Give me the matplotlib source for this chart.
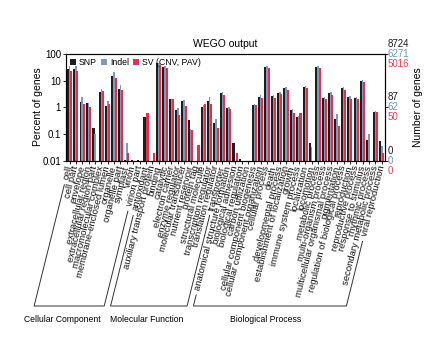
import matplotlib
matplotlib.use('Agg')
import matplotlib.pyplot as plt
import numpy as np
from matplotlib.patches import Patch
from matplotlib.lines import Line2D

plt.rcParams['font.family'] = ['Liberation Sans', 'DejaVu Sans']

# ---------------- data ----------------
cc_terms = ['cell', 'cell part', 'envelope', 'extracellular region', 'extracellular region part',
            'macromolecular complex', 'membrane-enclosed lumen', 'organelle', 'organelle part',
            'symplast', 'virion', 'virion part']
mf_terms = ['antioxidant', 'auxiliary transport protein', 'binding', 'catalytic', 'electron carrier',
            'enzyme regulator', 'molecular transducer', 'nutrient reservoir', 'protein tag',
            'structural molecule', 'transcription regulator', 'translation regulator', 'transporter']
bp_terms = ['anatomical structure formation', 'biological adhesion', 'biological regulation',
            'carbon utilization', 'cellular component biogenesis', 'cellular component organization',
            'cellular process', 'death', 'developmental process', 'establishment of localization',
            'growth', 'immune system process', 'localization', 'locomotion', 'metabolic process',
            'multi-organism process', 'multicellular organismal process', 'pigmentation',
            'regulation of biological process', 'reproduction', 'reproductive process',
            'response to stimulus', 'rhythmic process', 'secondary metabolic process',
            'viral reproduction']

snp_cc = [28, 28, 1.55, 1.5, 0.17, 3.7, 1.17, 15.5, 4.9, 0.011, 0.011, 0.011]
indel_cc = [35, 35, 2.4, 1.5, 0.1, 4.8, 1.8, 21, 7.0, 0.048, 0, 0]
sv_cc = [24, 24, 1.4, 1.05, 0, 4.1, 1.3, 12.5, 4.5, 0.02, 0, 0]

snp_mf = [0.45, 0, 48, 34, 2.1, 0.82, 1.7, 0.34, 0, 1.07, 1.75, 0.27, 3.4]
indel_mf = [0, 0, 45, 35, 2.0, 0.93, 1.9, 0.16, 0, 1.25, 2.5, 0.36, 3.7]
sv_mf = [0.62, 0.02, 40, 31, 2.0, 0.53, 1.15, 0.14, 0.04, 1.35, 1.35, 0.17, 3.0]

snp_bp = [0.95, 0.046, 0.012, 0, 1.25, 2.5, 32, 2.7, 3.6, 5.2, 0.8, 0.43, 6.0, 0.046, 33,
          2.2, 3.6, 0.36, 5.2, 2.5, 2.2, 10, 0.06, 0.7, 0.055]
indel_bp = [1.0, 0, 0, 0, 1.4, 2.9, 36, 2.9, 3.9, 5.8, 0.9, 0.48, 6.5, 0.032, 37,
            2.4, 3.9, 0.55, 5.6, 2.6, 2.4, 11, 0.1, 0.75, 0.035]
sv_bp = [0.9, 0.02, 0, 0, 1.2, 2.3, 30, 2.3, 3.3, 4.6, 0.6, 0.65, 5.5, 0, 30,
         2.0, 3.0, 0.2, 4.5, 2.0, 2.0, 8.8, 0, 0.7, 0.02]

series_names = ['SNP', 'Indel', 'SV (CNV, PAV)']
series_totals = ['8724', '6271', '5016']
series_mid = ['87', '62', '50']
group_names = ['Cellular Component', 'Molecular Function', 'Biological Process']

# ---------------- styling ----------------
C_BLACK = '#1e1e1e'
C_BLUE = '#7d9cb8'
C_RED = '#ec2d4a'
TXT_BLUE = '#6e98bd'
TXT_RED = '#f03c50'
W, H = 428, 339
title_x_px = [62, 147, 266]

terms = cc_terms + mf_terms + bp_terms
snp = np.array(snp_cc + snp_mf + snp_bp, float)
indel = np.array(indel_cc + indel_mf + indel_bp, float)
sv = np.array(sv_cc + sv_mf + sv_bp, float)
groups = [len(cc_terms), len(mf_terms), len(bp_terms)]
N = len(terms)
x = np.arange(N)

fig = plt.figure(figsize=(W / 100, H / 100), dpi=100)
ax = fig.add_axes([66 / W, 1 - 161 / H, (385 - 66) / W, (161 - 54) / H])
ax.set_yscale('log')
base = 0.01
for vals, off, wd, col in [(snp, -0.24, 0.38, C_BLACK), (indel, 0.0, 0.24, C_BLUE), (sv, 0.24, 0.32, C_RED)]:
    m = vals > base
    ax.bar(x[m] + off, vals[m] - base, bottom=base, width=wd, color=col, linewidth=0, zorder=2)

ax.set_ylim(0.01, 100)
ax.set_xlim(-0.55, N - 0.5)
ax.set_yticks([0.01, 0.1, 1, 10, 100])
ax.set_yticklabels(['0.01', '0.1', '1', '10', '100'], fontsize=7)
ax.yaxis.set_minor_locator(matplotlib.ticker.NullLocator())
ax.set_xticks(x)
ax.set_xticklabels(terms, rotation=76, ha='right', va='center', rotation_mode='anchor', fontsize=6.8,
                   color='#111111')
ax.tick_params(axis='x', length=2, pad=1.5, width=0.6)
ax.tick_params(axis='y', length=2, pad=1.5, width=0.6)
for s in ax.spines.values():
    s.set_linewidth(0.8)
    s.set_color('#222222')

# right axis ticks
ax2 = ax.twinx()
ax2.set_yscale('log')
ax2.set_ylim(0.01, 100)
ax2.set_yticks([0.01, 1, 100])
ax2.set_yticklabels([])
ax2.yaxis.set_minor_locator(matplotlib.ticker.NullLocator())
ax2.tick_params(axis='y', length=2, width=0.6)

# right stacked labels
tr = matplotlib.transforms.blended_transform_factory(ax.transAxes, ax.transData)
for yv, labs in [(100, series_totals), (1, series_mid), (0.01, ['0', '0', '0'])]:
    for lab, dy, col in zip(labs, [10, 0, -10], [C_BLACK, TXT_BLUE, TXT_RED]):
        ax.annotate(lab, xy=(1, yv), xycoords=tr, xytext=(3, dy), textcoords='offset pixels',
                    ha='left', va='center', fontsize=7, color=col, annotation_clip=False)

# legend
handles = [Patch(facecolor=c, edgecolor='none') for c in [C_BLACK, C_BLUE, C_RED]]
ax.legend(handles, series_names, loc='upper left', bbox_to_anchor=(0.0, 1.0), ncol=3, frameon=False,
          fontsize=6.3, handlelength=0.7, handleheight=0.7, handletextpad=0.35, columnspacing=0.45,
          borderaxespad=0.25, borderpad=0.2)

fig.text(225 / W, 1 - 44 / H, 'WEGO output', ha='center', va='center', fontsize=7.5)
fig.text(38 / W, 1 - 107 / H, 'Percent of genes', ha='center', va='center', rotation=90, fontsize=7.5)
fig.text(418 / W, 1 - 107 / H, 'Number of genes', ha='center', va='center', rotation=90, fontsize=7.5)

# brackets
fig.canvas.draw()
renderer = fig.canvas.get_renderer()
labels = ax.get_xticklabels()
ang = np.deg2rad(76)
y_bot = H - 306
ay = H - 164
start = 0
for gi, n in enumerate(groups):
    i0, i1 = start, start + n - 1
    pts = []
    for i in (i0, i1):
        ax_x = ax.transData.transform((i, 1))[0]
        bb = labels[i].get_window_extent(renderer)
        ytop = max(bb.y0 - 4, y_bot + 8)
        xtop = ax_x - (ay - ytop) / np.tan(ang)
        xb = ax_x - (ay - y_bot) / np.tan(ang)
        pts.append(((xtop, ytop), (xb, y_bot)))
    (l_top, l_bot), (r_top, r_bot) = pts
    xs = [l_top[0], l_bot[0], r_bot[0], r_top[0]]
    ys = [l_top[1], l_bot[1], r_bot[1], r_top[1]]
    fig.add_artist(Line2D(np.array(xs) / W, np.array(ys) / H, transform=fig.transFigure,
                          color='#333333', linewidth=0.7))
    fig.text(title_x_px[gi] / W, (H - 319) / H, group_names[gi], ha='center', va='center', fontsize=6.2)
    start += n

fig.savefig('out.png', dpi=100)
